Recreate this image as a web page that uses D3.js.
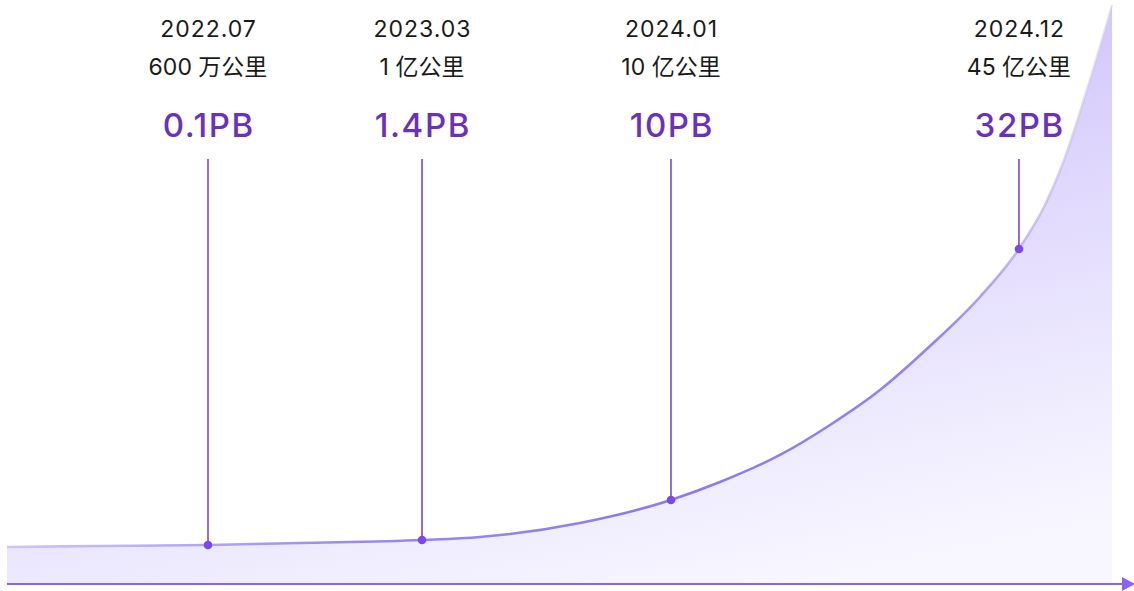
<!DOCTYPE html>
<html>
<head>
<meta charset="utf-8">
<script src="https://cdn.jsdelivr.net/npm/d3@7"></script>
<style>
  html, body { margin: 0; padding: 0; background: #ffffff; }
  svg { display: block; }
  text { font-family: Inter, "Noto Sans CJK SC", sans-serif; }
</style>
</head>
<body>
<svg id="chart" width="1134" height="591"></svg>
<script>
// Milestones along the growth curve
const dates = ["2022.07", "2023.03", "2024.01", "2024.12"];
const mileage = ["600 万公里", "1 亿公里", "10 亿公里", "45 亿公里"];
const dataSize = ["0.1PB", "1.4PB", "10PB", "32PB"];
const milestoneX = [18.19, 37.56, 60.09, 91.58];
const milestoneLevel = [6.57, 7.44, 14.36, 57.79];

// Samples of the growth curve (progress along the timeline, relative level)
const curveX = [0, 8.42, 18.19, 26.52, 37.56, 42.81, 51.86, 60.09, 64.52, 69.95, 74.48,
                79.0, 83.53, 88.05, 91.58, 93.94, 95.57, 97.56, 100];
const curveLevel = [6.23, 6.4, 6.57, 6.92, 7.44, 7.96, 10.38, 14.36, 17.47, 22.15, 27.34,
                    33.39, 41.0, 49.48, 57.79, 65.4, 72.66, 84.26, 100];

const svg = d3.select("#chart");
const left = 7, right = 1112, baseY = 583, topY = 5;

const x = d3.scaleLinear().domain([0, 100]).range([left, right]);
const y = d3.scaleLinear().domain([0, 100]).range([baseY, topY]);

const pts = curveX.map((d, i) => [d, curveLevel[i]]);

const defs = svg.append("defs");

const fillGrad = defs.append("linearGradient")
  .attr("id", "areaFill")
  .attr("gradientUnits", "userSpaceOnUse")
  .attr("x1", 700).attr("y1", topY)
  .attr("x2", 820).attr("y2", baseY);
[[0, "#cabefa"], [0.45, "#e1dafd"], [0.8, "#f0edfe"], [1, "#f8f7ff"]]
  .forEach(([o, c]) => fillGrad.append("stop").attr("offset", o).attr("stop-color", c));

const strokeGrad = defs.append("linearGradient")
  .attr("id", "lineStroke")
  .attr("gradientUnits", "userSpaceOnUse")
  .attr("x1", left).attr("y1", 0)
  .attr("x2", right).attr("y2", 0);
[[0, "#c6b9fa", 0.8], [0.3, "#9d88f6", 1], [0.6, "#8e78f4", 1], [0.85, "#9783f5", 1], [1, "#d2c8fc", 0.4]]
  .forEach(([o, c, a]) => strokeGrad.append("stop").attr("offset", o)
    .attr("stop-color", c).attr("stop-opacity", a));

const smooth = d3.curveMonotoneX;

const area = d3.area()
  .x(d => x(d[0]))
  .y0(baseY)
  .y1(d => y(d[1]))
  .curve(smooth);

const line = d3.line()
  .x(d => x(d[0]))
  .y(d => y(d[1]))
  .curve(smooth);

svg.append("path")
  .datum(pts)
  .attr("d", area)
  .attr("fill", "url(#areaFill)");

svg.append("path")
  .datum(pts)
  .attr("d", line)
  .attr("fill", "none")
  .attr("stroke", "url(#lineStroke)")
  .attr("stroke-width", 2.6);

// Baseline axis with arrow
svg.append("line")
  .attr("x1", left).attr("x2", 1124)
  .attr("y1", 584).attr("y2", 584)
  .attr("stroke", "#8a63f5")
  .attr("stroke-width", 2);
svg.append("path")
  .attr("d", "M1122,577 L1135,584 L1122,591 Z")
  .attr("fill", "#8a63f5");

// Milestone stems, dots and labels
const g = svg.selectAll("g.milestone")
  .data(dates.map((d, i) => ({ date: d, km: mileage[i], size: dataSize[i], mx: milestoneX[i], lv: milestoneLevel[i] })))
  .join("g")
  .attr("class", "milestone");

g.append("line")
  .attr("x1", d => x(d.mx)).attr("x2", d => x(d.mx))
  .attr("y1", 159).attr("y2", d => y(d.lv))
  .attr("stroke", "#7446ea")
  .attr("stroke-width", 1.6);

g.append("circle")
  .attr("cx", d => x(d.mx))
  .attr("cy", d => y(d.lv))
  .attr("r", 4.3)
  .attr("fill", "#7a48f0");

g.append("text")
  .attr("x", d => x(d.mx) + 0.5)
  .attr("y", 37)
  .attr("text-anchor", "middle")
  .attr("font-size", 23)
  .attr("letter-spacing", "1px")
  .attr("fill", "#1a1a1a")
  .text(d => d.date);

g.append("text")
  .attr("x", d => x(d.mx))
  .attr("y", 75)
  .attr("text-anchor", "middle")
  .attr("font-size", 23)
  .attr("fill", "#1a1a1a")
  .text(d => d.km);

g.append("text")
  .attr("x", d => x(d.mx) + 0.8)
  .attr("y", 137)
  .attr("text-anchor", "middle")
  .attr("font-size", 33)
  .attr("font-weight", 500)
  .attr("letter-spacing", "1.6px")
  .attr("fill", "#6a2fc6")
  .text(d => d.size);
</script>
</body>
</html>
